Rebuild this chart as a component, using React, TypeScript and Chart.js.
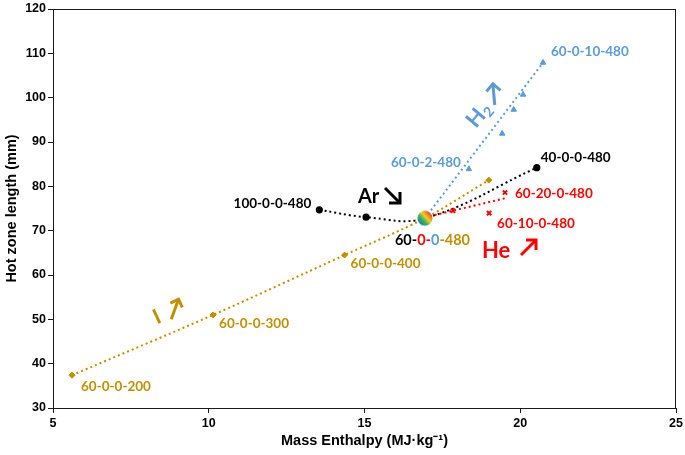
import { useEffect, useRef } from "react";
import { Chart, registerables } from "chart.js";

Chart.register(...registerables);

const GOLD = "#BF9000";
const BLUE = "#5B9BD5";
const RED = "#FF0000";
const BLACK = "#000000";
const LABEL_FONT = "Lato, 'Open Sans', sans-serif";
const AXIS_FONT = "'Liberation Sans', Arial, sans-serif";

// Axis ticks
const xTicks = [5, 10, 15, 20, 25];
const yTicks = [30, 40, 50, 60, 70, 80, 90, 100, 110, 120];

// I (power) series: 60-0-0-200 ... 60-0-0-480 and beyond
const powerX = [5.61, 10.14, 14.36, 16.94, 18.99];
const powerY = [37.4, 51.0, 64.5, 72.8, 81.4];

// Ar series: 100-0-0-480 ... 40-0-0-480
const arX = [13.55, 15.05, 16.94, 20.53];
const arY = [74.7, 73.05, 72.8, 84.2];

// He series markers and linear trend
const heX = [17.84, 19.0, 19.51];
const heY = [74.5, 73.95, 78.6];
const heTrendX = [16.94, 19.51];
const heTrendY = [73.0, 77.3];

// H2 series markers and linear trend
const h2X = [18.35, 19.42, 19.79, 20.09, 20.73];
const h2Y = [83.9, 91.9, 97.3, 100.7, 107.9];
const h2TrendX = [16.94, 20.73];
const h2TrendY = [72.8, 107.9];

// Baseline condition 60-0-0-480
const baseX = [16.94];
const baseY = [72.8];

const pts = (xs: number[], ys: number[]) => xs.map((x, i) => ({ x, y: ys[i] }));

type PL = { text: string; xs: number[]; ys: number[]; i: number; dx: number; dy: number; align: CanvasTextAlign; color: string };
const pointLabels: PL[] = [
  { text: "60-0-10-480", xs: h2X, ys: h2Y, i: 4, dx: 8, dy: -11, align: "left", color: BLUE },
  { text: "60-0-2-480", xs: h2X, ys: h2Y, i: 0, dx: -8, dy: -6, align: "right", color: BLUE },
  { text: "40-0-0-480", xs: arX, ys: arY, i: 3, dx: 4, dy: -10, align: "left", color: BLACK },
  { text: "100-0-0-480", xs: arX, ys: arY, i: 0, dx: -8, dy: -6, align: "right", color: BLACK },
  { text: "60-20-0-480", xs: heX, ys: heY, i: 2, dx: 10, dy: 1, align: "left", color: RED },
  { text: "60-10-0-480", xs: heX, ys: heY, i: 1, dx: 8, dy: 10, align: "left", color: RED },
  { text: "60-0-0-400", xs: powerX, ys: powerY, i: 2, dx: 6, dy: 9, align: "left", color: GOLD },
  { text: "60-0-0-300", xs: powerX, ys: powerY, i: 1, dx: 6, dy: 9, align: "left", color: GOLD },
  { text: "60-0-0-200", xs: powerX, ys: powerY, i: 0, dx: 9, dy: 11, align: "left", color: GOLD },
];
const baseLabelParts: [string, string][] = [
  ["60-", BLACK],
  ["0-", RED],
  ["0", BLUE],
  ["-480", GOLD],
];

function makeBall(): HTMLCanvasElement {
  const c = document.createElement("canvas");
  c.width = 16;
  c.height = 16;
  const g = c.getContext("2d")!;
  const grad = g.createLinearGradient(2, 14, 14, 3);
  grad.addColorStop(0, "#1E6FD9");
  grad.addColorStop(0.35, "#35B45A");
  grad.addColorStop(0.62, "#F2D027");
  grad.addColorStop(1, "#EE3A1E");
  g.beginPath();
  g.arc(8, 8, 7.5, 0, Math.PI * 2);
  g.fillStyle = grad;
  g.fill();
  return c;
}

function drawArrow(ctx: CanvasRenderingContext2D, x1: number, y1: number, x2: number, y2: number, head: number, color: string, lw: number) {
  const a = Math.atan2(y2 - y1, x2 - x1);
  ctx.save();
  ctx.strokeStyle = color;
  ctx.lineWidth = lw;
  ctx.lineCap = "butt";
  ctx.lineJoin = "miter";
  ctx.beginPath();
  ctx.moveTo(x1, y1);
  ctx.lineTo(x2, y2);
  ctx.stroke();
  ctx.beginPath();
  ctx.moveTo(x2 - head * Math.cos(a - Math.PI / 4), y2 - head * Math.sin(a - Math.PI / 4));
  ctx.lineTo(x2, y2);
  ctx.lineTo(x2 - head * Math.cos(a + Math.PI / 4), y2 - head * Math.sin(a + Math.PI / 4));
  ctx.stroke();
  ctx.restore();
}

const annotPlugin = {
  id: "annot",
  afterDatasetsDraw(chart: any) {
    const ctx: CanvasRenderingContext2D = chart.ctx;
    const { left, top, right, bottom } = chart.chartArea;
    const sx = chart.scales.x;
    const sy = chart.scales.y;
    ctx.save();
    // plot border
    ctx.strokeStyle = "#1a1a1a";
    ctx.lineWidth = 1;
    ctx.strokeRect(left + 0.5, top + 0.5, right - left - 1, bottom - top);

    // point labels
    ctx.font = `bold 13.5px ${LABEL_FONT}`;
    ctx.textBaseline = "middle";
    for (const l of pointLabels) {
      const px = sx.getPixelForValue(l.xs[l.i]);
      const py = sy.getPixelForValue(l.ys[l.i]);
      ctx.fillStyle = l.color;
      ctx.textAlign = l.align;
      ctx.fillText(l.text, px + l.dx, py + l.dy);
    }
    // multi-colour base label
    {
      const px = sx.getPixelForValue(baseX[0]) - 30;
      const py = sy.getPixelForValue(baseY[0]) + 22;
      ctx.font = `bold 14.5px ${LABEL_FONT}`;
      ctx.textAlign = "left";
      let x = px;
      for (const [t, c] of baseLabelParts) {
        ctx.fillStyle = c;
        ctx.fillText(t, x, py);
        x += ctx.measureText(t).width;
      }
    }

    // Ar ↘
    ctx.font = `bold 20px ${LABEL_FONT}`;
    ctx.textAlign = "left";
    ctx.fillStyle = BLACK;
    ctx.fillText("Ar", 358, 197);
    drawArrow(ctx, 385, 188, 400, 203, 11, BLACK, 3);

    // He ↗
    ctx.font = `bold 22px ${LABEL_FONT}`;
    ctx.fillStyle = RED;
    ctx.fillText("He", 482, 251);
    drawArrow(ctx, 521, 255, 536, 240, 10, RED, 3);

    // H2 ↗ rotated
    ctx.save();
    ctx.translate(476, 118);
    ctx.rotate((-50 * Math.PI) / 180);
    ctx.fillStyle = BLUE;
    ctx.textAlign = "center";
    ctx.font = `bold 22px ${LABEL_FONT}`;
    ctx.fillText("H", 0, 0);
    ctx.font = `bold 14px ${LABEL_FONT}`;
    ctx.fillText("2", 13, 6);
    drawArrow(ctx, 22, 6, 37, -9, 10, BLUE, 3);
    ctx.restore();

    // I ↗ rotated
    ctx.save();
    ctx.translate(157, 317);
    ctx.rotate((-25 * Math.PI) / 180);
    ctx.fillStyle = GOLD;
    ctx.textAlign = "center";
    ctx.font = `bold 21px ${LABEL_FONT}`;
    ctx.fillText("I", 0, 0);
    drawArrow(ctx, 12, 8, 27, -7, 9, GOLD, 3);
    ctx.restore();

    ctx.restore();
  },
};

export default function App() {
  const ref = useRef<HTMLCanvasElement>(null);
  useEffect(() => {
    document.body.style.margin = "0";
    const dotted = { borderDash: [2, 3], borderWidth: 2, showLine: true };
    const tickFont = { family: AXIS_FONT, size: 12.5, weight: "bold" as const };
    const titleFont = { family: AXIS_FONT, size: 14.5, weight: "bold" as const };
    const chart = new Chart(ref.current!, {
      type: "scatter",
      data: {
        datasets: [
          {
            label: "base",
            data: pts(baseX, baseY),
            pointStyle: makeBall() as any,
            pointRadius: 8,
            order: 0,
          },
          {
            label: "I",
            data: pts(powerX, powerY),
            ...dotted,
            borderColor: GOLD,
            backgroundColor: GOLD,
            pointBorderColor: GOLD,
            pointBackgroundColor: GOLD,
            pointStyle: "rectRot",
            pointRadius: [3, 3, 3, 0, 3],
            pointBorderWidth: 1,
            tension: 0.3,
            order: 4,
          },
          {
            label: "Ar",
            data: pts(arX, arY),
            ...dotted,
            borderColor: BLACK,
            backgroundColor: BLACK,
            pointBackgroundColor: BLACK,
            pointBorderColor: BLACK,
            pointStyle: "circle",
            pointRadius: [2.6, 2.6, 0, 2.6],
            tension: 0.4,
            order: 3,
          },
          {
            label: "He trend",
            data: pts(heTrendX, heTrendY),
            ...dotted,
            borderColor: RED,
            pointRadius: 0,
            order: 2,
          },
          {
            label: "He",
            data: pts(heX, heY),
            showLine: false,
            borderColor: RED,
            pointBorderColor: RED,
            pointStyle: "crossRot",
            pointRadius: 3,
            pointBorderWidth: 2,
            order: 2,
          },
          {
            label: "H2 trend",
            data: pts(h2TrendX, h2TrendY),
            ...dotted,
            borderColor: BLUE,
            pointRadius: 0,
            order: 1,
          },
          {
            label: "H2",
            data: pts(h2X, h2Y),
            showLine: false,
            borderColor: BLUE,
            backgroundColor: BLUE,
            pointBackgroundColor: BLUE,
            pointBorderColor: BLUE,
            pointStyle: "triangle",
            pointRadius: 3.2,
            order: 1,
          },
        ] as any,
      },
      options: {
        responsive: false,
        animation: false,
        devicePixelRatio: 1,
        layout: { padding: { left: 0, right: 6, top: 6, bottom: 0 } },
        plugins: { legend: { display: false }, tooltip: { enabled: false } },
        scales: {
          x: {
            type: "linear",
            min: 5,
            max: 25,
            afterBuildTicks: (s: any) => {
              s.ticks = xTicks.map((v) => ({ value: v }));
            },
            afterFit: (s: any) => {
              s.height = 47;
              s.paddingLeft = 0;
              s.paddingRight = 0;
            },
            ticks: { font: tickFont, color: "#000", padding: 3, maxRotation: 0 },
            grid: { drawOnChartArea: false, drawTicks: true, tickLength: 5, color: "#1a1a1a" },
            border: { display: true, color: "#1a1a1a" },
            title: {
              display: true,
              text: "Mass Enthalpy (MJ·kg⁻¹)",
              font: titleFont,
              color: "#000",
              padding: { top: 0, bottom: 5 },
            },
          },
          y: {
            type: "linear",
            min: 30,
            max: 120,
            afterBuildTicks: (s: any) => {
              s.ticks = yTicks.map((v) => ({ value: v }));
            },
            afterFit: (s: any) => {
              s.width = 53;
              s.paddingTop = 0;
              s.paddingBottom = 0;
            },
            ticks: { font: tickFont, color: "#000", padding: 2 },
            grid: { drawOnChartArea: false, drawTicks: true, tickLength: 5, color: "#1a1a1a" },
            border: { display: true, color: "#1a1a1a" },
            title: {
              display: true,
              text: "Hot zone length (mm)",
              font: titleFont,
              color: "#000",
              padding: { top: 3, bottom: 0 },
            },
          },
        },
      } as any,
      plugins: [annotPlugin],
    });
    return () => chart.destroy();
  }, []);
  return <canvas ref={ref} width={685} height={455} style={{ display: "block" }} />;
}
